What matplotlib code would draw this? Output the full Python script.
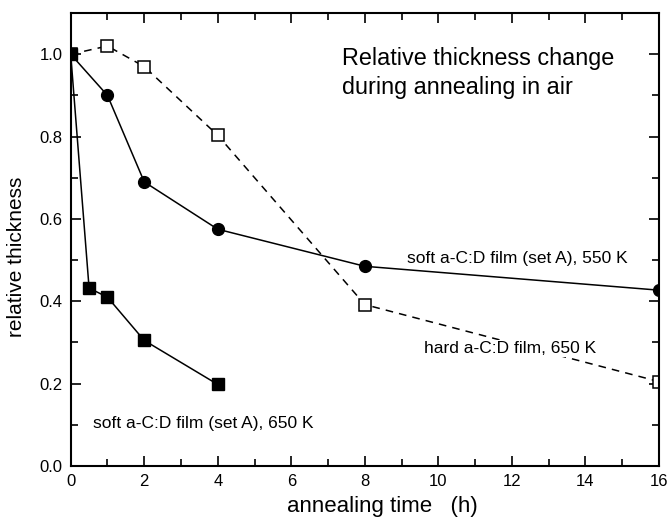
import matplotlib.pyplot as plt
from matplotlib.ticker import MultipleLocator

plt.rcParams['font.family'] = ['Liberation Sans', 'DejaVu Sans']

t_soft650 = [0, 0.5, 1, 2, 4]
d_soft650 = [1.0, 0.432, 0.41, 0.305, 0.198]

t_soft550 = [0, 1, 2, 4, 8, 16]
d_soft550 = [1.0, 0.90, 0.69, 0.575, 0.485, 0.427]

t_hard650 = [0, 1, 2, 4, 8, 16]
d_hard650 = [1.0, 1.02, 0.97, 0.803, 0.392, 0.205]

fig = plt.figure(figsize=(6.67, 5.23), dpi=100)
ax = fig.add_axes([0.106, 0.109, 0.882, 0.866])

ax.plot(t_hard650, d_hard650, 'k--', lw=1.1, marker='s', ms=8,
        mfc='white', mec='black', mew=1.1, dashes=(5, 4), zorder=2)
ax.plot(t_soft550, d_soft550, 'k-', lw=1.1, marker='o', ms=8.5,
        mfc='black', mec='black', zorder=3)
ax.plot(t_soft650, d_soft650, 'k-', lw=1.1, marker='s', ms=8,
        mfc='black', mec='black', zorder=4)

ax.set_xlim(0, 16)
ax.set_ylim(0, 1.1)
ax.xaxis.set_minor_locator(MultipleLocator(1))
ax.yaxis.set_minor_locator(MultipleLocator(0.1))
ax.set_xticks([0, 2, 4, 6, 8, 10, 12, 14, 16])
ax.set_yticks([0, 0.2, 0.4, 0.6, 0.8, 1.0])
ax.set_yticklabels(['0.0', '0.2', '0.4', '0.6', '0.8', '1.0'])
ax.tick_params(which='both', direction='in', top=True, right=True,
               labelsize=12, width=1.2, pad=6)
ax.tick_params(which='major', length=7)
ax.tick_params(which='minor', length=5)
for s in ax.spines.values():
    s.set_linewidth(1.5)

ax.set_xlabel('annealing time   (h)', fontsize=16)
ax.xaxis.set_label_coords(0.529, -0.066)
ax.set_ylabel('relative thickness', fontsize=15)
ax.yaxis.set_label_coords(-0.076, 0.461)

ax.text(7.37, 0.955, 'Relative thickness change\nduring annealing in air',
        fontsize=16.8, va='center', ha='left', linespacing=1.35)
ax.text(9.14, 0.503, 'soft a-C:D film (set A), 550 K', fontsize=12.5, va='center')
ax.text(9.6, 0.285, 'hard a-C:D film, 650 K', fontsize=12.5, va='center',
        bbox=dict(facecolor='white', edgecolor='none', pad=0.5), zorder=5)
ax.text(0.6, 0.104, 'soft a-C:D film (set A), 650 K', fontsize=12.5, va='center')

fig.savefig('out.png', dpi=100)
